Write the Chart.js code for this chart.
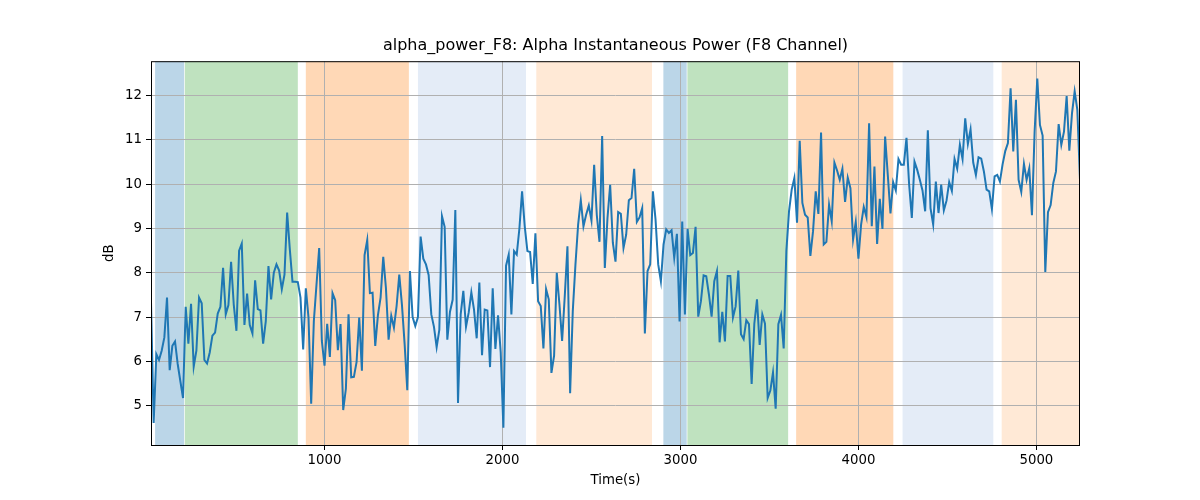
<!DOCTYPE html>
<html>
<head>
<meta charset="utf-8">
<script src="https://cdn.jsdelivr.net/npm/chart.js@4.4.1/dist/chart.umd.min.js"></script>
<style>
  html, body { margin: 0; padding: 0; background: #fff; }
  canvas { display: block; }
</style>
</head>
<body>
<canvas id="alphaPower" width="1200" height="500"></canvas>
<script>
// sampling grid of the recording (seconds)
const t0 = 25;
const dt = 15;

// alpha power, dB
const power = [
  7.35, 4.61, 6.16, 6.03, 6.24, 6.54, 7.44, 5.80, 6.35, 6.45,
  5.94, 5.55, 5.17, 7.23, 6.40, 7.30, 5.88, 6.24, 7.44, 7.31,
  6.03, 5.95, 6.20, 6.58, 6.65, 7.08, 7.23, 8.11, 7.06, 7.27,
  8.25, 7.28, 6.69, 8.50, 8.66, 6.82, 7.53, 6.82, 6.63, 7.83,
  7.18, 7.15, 6.40, 6.91, 8.15, 7.40, 8.00, 8.19, 8.05, 7.63,
  7.96, 9.36, 8.53, 7.80, 7.80, 7.79, 7.44, 6.27, 7.65, 6.99,
  5.04, 6.91, 7.74, 8.56, 6.46, 5.90, 6.85, 6.10, 7.54, 7.38,
  6.25, 6.84, 4.90, 5.38, 7.06, 5.64, 5.65, 5.98, 6.99, 5.79,
  8.40, 8.74, 7.54, 7.55, 6.35, 7.04, 7.44, 8.36, 7.66, 6.49,
  7.03, 6.76, 7.25, 7.96, 7.28, 6.40, 5.35, 8.04, 7.00, 6.80,
  7.00, 8.82, 8.32, 8.19, 7.95, 7.06, 6.78, 6.32, 6.71, 9.28,
  9.04, 6.49, 7.12, 7.39, 9.42, 5.06, 7.06, 7.59, 6.78, 7.10,
  7.56, 7.17, 6.52, 7.78, 6.14, 7.17, 7.15, 5.87, 7.65, 6.28,
  7.04, 6.20, 4.50, 8.16, 8.41, 7.06, 8.49, 8.41, 9.00, 9.84,
  9.05, 8.49, 8.47, 7.75, 8.89, 7.36, 7.25, 6.29, 7.63, 7.40,
  5.74, 6.13, 8.00, 7.29, 6.46, 7.48, 8.60, 5.28, 7.14, 8.19,
  9.09, 9.64, 9.05, 9.31, 9.52, 9.18, 10.44, 9.30, 8.70, 11.09,
  8.11, 9.24, 9.99, 8.68, 8.25, 9.37, 9.33, 8.56, 8.86, 9.64,
  9.69, 10.35, 9.15, 9.25, 9.46, 6.63, 8.04, 8.19, 9.84, 9.20,
  8.19, 7.81, 8.64, 8.98, 8.90, 8.96, 8.34, 8.88, 6.90, 9.16,
  7.06, 8.99, 8.40, 8.45, 9.04, 7.01, 7.36, 7.94, 7.92, 7.51,
  7.01, 7.81, 8.04, 6.43, 7.12, 6.45, 7.93, 7.93, 6.99, 7.24,
  8.05, 6.61, 6.50, 6.93, 6.84, 5.49, 6.85, 7.40, 6.37, 7.06,
  6.85, 5.17, 5.34, 5.75, 4.93, 6.84, 7.05, 6.29, 8.49, 9.39,
  9.88, 10.14, 9.13, 10.98, 9.58, 9.31, 9.25, 8.38, 8.94, 9.84,
  9.33, 11.17, 8.64, 8.70, 9.54, 9.16, 10.49, 10.31, 10.10, 10.35,
  9.60, 10.15, 9.91, 8.75, 9.15, 8.32, 9.09, 9.49, 9.26, 11.38,
  9.05, 10.40, 8.65, 9.67, 8.99, 11.08, 10.21, 9.34, 10.05, 9.86,
  10.57, 10.44, 10.44, 11.05, 9.99, 9.24, 10.51, 10.33, 10.10, 9.86,
  9.39, 11.22, 9.46, 9.09, 10.06, 9.35, 9.99, 9.41, 9.63, 10.05,
  9.85, 10.57, 10.35, 10.89, 10.57, 11.49, 10.91, 11.24, 10.49, 10.21,
  10.61, 10.58, 10.29, 9.88, 9.84, 9.44, 10.18, 10.21, 10.06, 10.45,
  10.75, 10.93, 12.17, 10.74, 11.91, 10.10, 9.83, 10.46, 10.10, 10.36,
  9.30, 11.19, 12.39, 11.34, 11.10, 8.02, 9.37, 9.53, 10.03, 10.29,
  11.36, 10.89, 11.19, 11.99, 10.76, 11.60, 12.10, 11.68, 10.10
];

// shaded phases (seconds)
const spanStart = [48, 215, 895, 1525, 2190, 2904, 3039, 3650, 4248, 4805];
const spanEnd   = [211, 850, 1474, 2132, 2840, 3035, 3605, 4196, 4758, 5260];
const spanColor = [
  'rgba(31,119,180,0.3)', 'rgba(44,160,44,0.3)', 'rgba(255,127,14,0.3)',
  '#e4ecf7', 'rgba(255,127,14,0.17)',
  'rgba(31,119,180,0.3)', 'rgba(44,160,44,0.3)', 'rgba(255,127,14,0.3)',
  '#e4ecf7', 'rgba(255,127,14,0.17)'
];

const xTicks = [1000, 2000, 3000, 4000, 5000];
const yTicks = [5, 6, 7, 8, 9, 10, 11, 12];

const points = power.map((v, i) => ({ x: t0 + i * dt, y: v }));

const spans = {
  id: 'spans',
  beforeDraw(chart) {
    const { ctx, chartArea: a, scales: { x } } = chart;
    ctx.save();
    ctx.beginPath();
    ctx.rect(a.left, a.top, a.right - a.left, a.bottom - a.top);
    ctx.clip();
    spanStart.forEach((s, i) => {
      const x1 = x.getPixelForValue(s);
      const x2 = x.getPixelForValue(spanEnd[i]);
      ctx.fillStyle = spanColor[i];
      ctx.fillRect(x1, a.top, x2 - x1, a.bottom - a.top);
    });
    ctx.restore();
  },
  afterDraw(chart) {
    const { ctx, chartArea: a } = chart;
    ctx.save();
    ctx.strokeStyle = '#000';
    ctx.lineWidth = 1;
    ctx.strokeRect(a.left + 0.5, a.top + 0.5, a.right - a.left - 1, a.bottom - a.top);
    ctx.restore();
  }
};

const font = { family: 'DejaVu Sans', size: 13.3 };

new Chart('alphaPower', {
  type: 'line',
  data: {
    datasets: [{
      data: points,
      borderColor: '#1f77b4',
      borderWidth: 2,
      pointRadius: 0,
      tension: 0,
      fill: false
    }]
  },
  options: {
    responsive: false,
    animation: false,
    devicePixelRatio: 1,
    layout: { padding: { left: 0, right: 120, top: 0, bottom: 0 } },
    plugins: {
      legend: { display: false },
      tooltip: { enabled: false },
      title: {
        display: true,
        fullSize: false,
        text: 'alpha_power_F8: Alpha Instantaneous Power (F8 Channel)',
        color: '#000',
        font: { family: 'DejaVu Sans', size: 16, weight: 'normal' },
        padding: { top: 36, bottom: 6 }
      }
    },
    scales: {
      x: {
        type: 'linear',
        min: t0,
        max: t0 + (power.length - 1) * dt,
        afterFit(s) { s.height = 55; },
        afterBuildTicks(s) { s.ticks = xTicks.map(v => ({ value: v })); },
        grid: { color: '#b0b0b0', lineWidth: 1, tickLength: 5, tickColor: '#000' },
        border: { display: false },
        ticks: { color: '#000', font, padding: 3, maxRotation: 0, callback: v => String(v) },
        title: { display: true, text: 'Time(s)', color: '#000', font, padding: { top: 0, bottom: 11 } }
      },
      y: {
        min: 4.11,
        max: 12.78,
        afterFit(s) { s.width = 151; },
        afterBuildTicks(s) { s.ticks = yTicks.map(v => ({ value: v })); },
        grid: { color: '#b0b0b0', lineWidth: 1, tickLength: 5, tickColor: '#000' },
        border: { display: false },
        ticks: { color: '#000', font, padding: 4, callback: v => String(v) },
        title: { display: true, text: 'dB', color: '#000', font, padding: { top: 102, bottom: 0 } }
      }
    }
  },
  plugins: [spans]
});
</script>
</body>
</html>
